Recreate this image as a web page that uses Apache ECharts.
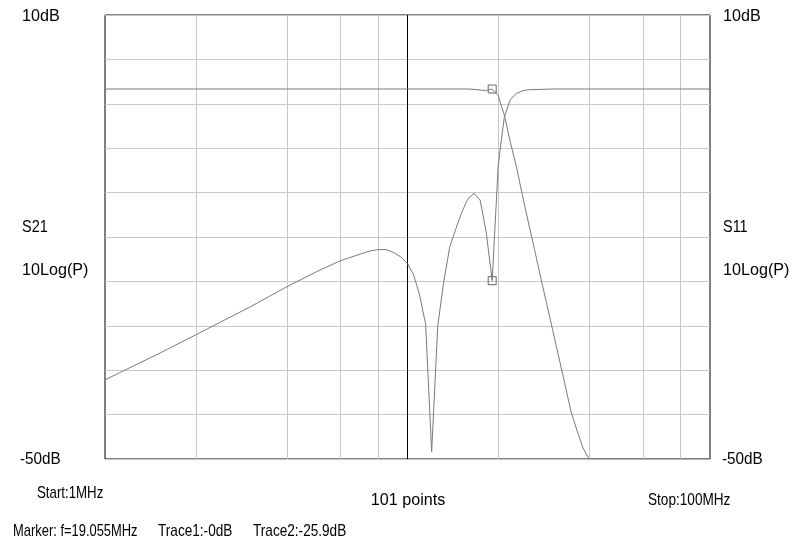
<!DOCTYPE html>
<html>
<head>
<meta charset="utf-8">
<script src="https://cdn.jsdelivr.net/npm/echarts@6/dist/echarts.min.js"></script>
<style>html,body{margin:0;padding:0;background:#fff;}#c{width:808px;height:547px;}</style>
</head>
<body>
<div id="c"></div>
<script>
// S11 trace (MHz, dB)
var s11Freq = [1, 1.5, 2, 3, 4, 5, 6, 7, 7.5, 8, 8.5, 9, 9.5, 10, 10.47, 10.96, 11.48, 12.02, 12.59, 13.18, 13.80, 14.45, 15.14, 15.85, 16.60, 17.38, 18.20, 19.055, 19.95, 20.89, 21.88, 22.91, 23.99, 25.12, 30, 50, 100];
var s11Val  = [-39.3, -35.8, -33.2, -29.5, -26.7, -24.7, -23.2, -22.3, -21.9, -21.7, -21.7, -22.1, -22.7, -23.6, -25.1, -27.8, -31.8, -49.0, -32.0, -26.0, -21.3, -18.9, -16.6, -14.8, -14.1, -15.0, -19.3, -25.9, -10.3, -3.8, -1.4, -0.6, -0.25, -0.1, 0, 0, 0];
// S21 trace (MHz, dB)
var s21Freq = [1, 10, 15.14, 15.85, 16.60, 17.38, 18.20, 19.055, 19.95, 20.89, 21.88, 22.91, 23.99, 25.12, 26.30, 27.54, 28.84, 30.20, 31.62, 33.11, 34.67, 36.31, 38.02, 39.81, 100];
var s21Val  = [0, 0, 0, 0, -0.05, -0.15, -0.2, 0, -0.9, -3.5, -7.2, -10.5, -14.4, -18.1, -21.7, -25.4, -29.0, -32.6, -36.2, -39.8, -43.5, -46.1, -48.5, -50, -50];
// marker
var markerFreq = 19.055;
var markerS21 = 0;
var markerS11 = -25.9;
// grid frequencies (MHz)
var gridFreqs = [2, 4, 6, 8, 20, 40, 60, 80];
var centerFreq = 10;

function pairs(xs, ys){ var out=[]; for(var i=0;i<xs.length;i++){ out.push([xs[i], ys[i]]); } return out; }

var FONT = '"Liberation Sans", Arial, sans-serif';
var FS = 17;
function txt(t, x, y, sx, align){
  return {type:'text', x:x, y:y, scaleX:sx, scaleY:1, silent:true, z:100,
    style:{text:t, fill:'#000', fontSize:FS, fontFamily:FONT, align:align||'left', verticalAlign:'middle'}};
}

var chart = echarts.init(document.getElementById('c'), null, {renderer:'canvas'});
var markerStyle = {color:'rgba(0,0,0,0)', borderColor:'#666', borderWidth:1};
chart.setOption({
  animation:false,
  backgroundColor:'#fff',
  grid:{left:105, top:15, right:98, bottom:88, show:true, borderColor:'#000', borderWidth:1, backgroundColor:'#fff'},
  xAxis:{type:'log', logBase:10, min:1, max:100,
    axisLine:{show:false}, axisTick:{show:false}, axisLabel:{show:false}, splitLine:{show:false}},
  yAxis:[
    {type:'value', min:-50, max:10, axisLine:{show:false}, axisTick:{show:false}, axisLabel:{show:false}, splitLine:{show:false}},
    {type:'value', min:0, max:10, interval:1, position:'left', axisLine:{show:false}, axisTick:{show:false}, axisLabel:{show:false},
      splitLine:{show:true, lineStyle:{color:'#c8c8c8', width:1}}}
  ],
  series:[
    {type:'line', name:'S11', yAxisIndex:0, data:pairs(s11Freq, s11Val), showSymbol:false, symbol:'none',
      lineStyle:{color:'#7a7a7a', width:1}, z:5,
      markLine:{silent:true, symbol:['none','none'], label:{show:false},
        lineStyle:{color:'#c8c8c8', type:'solid', width:1},
        data: gridFreqs.map(function(f){return {xAxis:f};}).concat([{xAxis:centerFreq, lineStyle:{color:'#000', width:1}}])},
      markPoint:{silent:true, symbol:'rect', symbolSize:8, label:{show:false}, itemStyle:markerStyle,
        data:[{coord:[markerFreq, markerS11]}]}
    },
    {type:'line', name:'S21', yAxisIndex:0, data:pairs(s21Freq, s21Val), showSymbol:false, symbol:'none',
      lineStyle:{color:'#7a7a7a', width:1}, z:5,
      markPoint:{silent:true, symbol:'rect', symbolSize:8, label:{show:false}, itemStyle:markerStyle,
        data:[{coord:[markerFreq, markerS21]}]}
    }
  ],
  graphic:[
    txt('10dB', 22, 16, 0.95), txt('10dB', 723, 16, 0.95),
    txt('S21', 22, 227, 0.85), txt('10Log(P)', 22, 270, 0.95),
    txt('S11', 723, 227, 0.85), txt('10Log(P)', 723, 270, 0.95),
    txt('-50dB', 20, 459, 0.9), txt('-50dB', 722, 459, 0.9),
    txt('Start:1MHz', 37, 493, 0.78),
    txt('101 points', 408, 500, 0.95, 'center'),
    txt('Stop:100MHz', 648, 500, 0.8),
    txt('Marker: f=19.055MHz', 13, 531, 0.76),
    txt('Trace1:-0dB', 158, 531, 0.8),
    txt('Trace2:-25.9dB', 253, 531, 0.8)
  ]
});
</script>
</body>
</html>
